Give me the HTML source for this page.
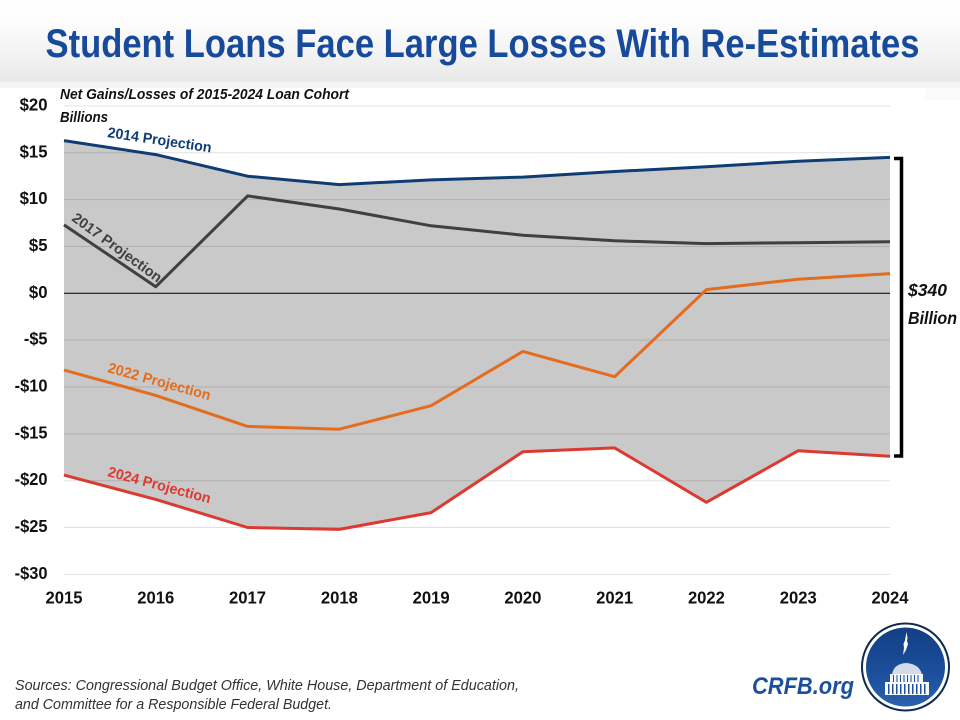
<!DOCTYPE html>
<html lang="en">
<head>
<meta charset="utf-8">
<title>Student Loans Face Large Losses With Re-Estimates</title>
<style>
html,body{margin:0;padding:0;background:#fff;}
#chart{display:block;width:960px;height:720px;font-family:"Liberation Sans",sans-serif;}
</style>
</head>
<body>
<svg id="chart" xmlns="http://www.w3.org/2000/svg" width="960" height="720" viewBox="0 0 960 720">
<defs>
<linearGradient id="headerGrad" x1="0" y1="0" x2="0" y2="1">
<stop offset="0" stop-color="#ffffff"/><stop offset="0.35" stop-color="#fbfbfb"/><stop offset="1" stop-color="#e9e9e9"/>
</linearGradient>
<linearGradient id="logoGrad" x1="0" y1="0" x2="0" y2="1">
<stop offset="0" stop-color="#123f85"/><stop offset="0.6" stop-color="#1c4f9c"/><stop offset="1" stop-color="#2a62b0"/>
</linearGradient>
</defs>
<rect x="0" y="0" width="960" height="82" fill="url(#headerGrad)"/>
<rect x="0" y="82" width="960" height="6" fill="#f5f5f5"/>
<rect x="925" y="88" width="35" height="12" fill="#fbfbfb"/>
<text x="482.5" y="57" text-anchor="middle" font-size="40" font-weight="700" fill="#174a9a" textLength="874" lengthAdjust="spacingAndGlyphs">Student Loans Face Large Losses With Re-Estimates</text>
<g id="plot"></g>
<text x="60" y="99" font-size="14.5" font-weight="700" font-style="italic" fill="#111" textLength="289" lengthAdjust="spacingAndGlyphs">Net Gains/Losses of 2015-2024 Loan Cohort</text>
<text x="60" y="122" font-size="14.5" font-weight="700" font-style="italic" fill="#111" textLength="48" lengthAdjust="spacingAndGlyphs">Billions</text>
<path d="M894 158.500H901.500V456H894" fill="none" stroke="#000" stroke-width="3.500"/>
<text x="908" y="296" font-size="17.500" font-weight="700" font-style="italic" fill="#111" textLength="39" lengthAdjust="spacingAndGlyphs">$340</text>
<text x="908" y="324" font-size="17.500" font-weight="700" font-style="italic" fill="#111" textLength="49" lengthAdjust="spacingAndGlyphs">Billion</text>
<text x="15" y="690" font-size="14.500" font-style="italic" fill="#333" textLength="504" lengthAdjust="spacingAndGlyphs">Sources: Congressional Budget Office, White House, Department of Education,</text>
<text x="15" y="709" font-size="14.500" font-style="italic" fill="#333" textLength="317" lengthAdjust="spacingAndGlyphs">and Committee for a Responsible Federal Budget.</text>
<text x="752" y="694" font-size="24" font-weight="700" font-style="italic" fill="#1b4f9c" textLength="102" lengthAdjust="spacingAndGlyphs">CRFB.org</text>
<g>
<circle cx="905.500" cy="667" r="43.500" fill="#fff" stroke="#10294f" stroke-width="2"/>
<circle cx="905.500" cy="667" r="39.500" fill="url(#logoGrad)"/>
<g fill="#fff">
<path d="M906.500 632l1 6 -0.500 3 1 3 -2 6 -3 5 1 -7 -0.500 -4 1.500 -3.500z"/>
<path d="M892 675q1 -11 14 -12q14 1 16 12z" opacity="0.8"/>
<rect x="890" y="674" width="33" height="8" opacity="0.95"/>
<path d="M885 695v-13h44v13z"/>
</g>
<path d="M893 675h1v7h-1zM896.500 675h1v7h-1zM900 675h1v7h-1zM903.500 675h1v7h-1zM907 675h1v7h-1zM910.500 675h1v7h-1zM914 675h1v7h-1zM917.500 675h1v7h-1zM888 684h1.500v10h-1.500zM892 684h1.500v10h-1.500zM896 684h1.500v10h-1.500zM900 684h1.500v10h-1.500zM904 684h1.500v10h-1.500zM908 684h1.500v10h-1.500zM912 684h1.500v10h-1.500zM916 684h1.500v10h-1.500zM920 684h1.500v10h-1.500zM924 684h1.500v10h-1.500z" fill="#1c4f9c"/>
</g>
</svg>
<script>
const years = [2015, 2016, 2017, 2018, 2019, 2020, 2021, 2022, 2023, 2024];
const yTickValues = [20, 15, 10, 5, 0, -5, -10, -15, -20, -25, -30];
const yTickLabels = ["$20", "$15", "$10", "$5", "$0", "-$5", "-$10", "-$15", "-$20", "-$25", "-$30"];
const projection2014 = [16.3, 14.8, 12.5, 11.6, 12.1, 12.4, 13.0, 13.5, 14.1, 14.5];
const projection2017 = [7.3, 0.7, 10.4, 9.0, 7.2, 6.2, 5.6, 5.3, 5.4, 5.5];
const projection2022 = [-8.2, -10.9, -14.2, -14.5, -12.0, -6.2, -8.9, 0.4, 1.5, 2.1];
const projection2024 = [-19.4, -22.0, -25.0, -25.2, -23.4, -16.9, -16.5, -22.3, -16.8, -17.4];

const NS = "http://www.w3.org/2000/svg";
const plot = document.getElementById("plot");
const xLeft = 64, xRight = 890, yZero = 293.3, pxPerUnit = 9.37;
function xScale(i) { return xLeft + (xRight - xLeft) * i / (years.length - 1); }
function yScale(v) { return yZero - v * pxPerUnit; }
function make(tag, attrs) {
  const el = document.createElementNS(NS, tag);
  for (const k in attrs) el.setAttribute(k, attrs[k]);
  plot.appendChild(el);
  return el;
}
function pts(values) { return values.map(function (v, i) { return xScale(i).toFixed(1) + "," + yScale(v).toFixed(1); }); }

const bg = make("rect", { x: 3, y: 88, width: 922, height: 500, fill: "#ffffff" });



const band = make("polygon", { points: pts(projection2014).concat(pts(projection2024).reverse()).join(" "), fill: "#c9c9c9" });



yTickValues.forEach(function (v, i) {
  if (v !== 0) {
    const g = make("line", { x1: xLeft, x2: xRight, y1: yScale(v), y2: yScale(v), stroke: "#000", "stroke-opacity": 0.12, "stroke-width": 1 });
    
    
  }
  const label = yTickLabels[i];
  const digits = label.replace("-", "").length;
  const t = make("text", { x: 47.5, y: yScale(v) + 4.5, "text-anchor": "end", "font-size": 17.5, "font-weight": 700, fill: "#111", textLength: digits * 9.3 + (label.length > digits ? 5 : 0), lengthAdjust: "spacingAndGlyphs" });
  
  
  t.textContent = label;
});

const zero = make("line", { x1: xLeft, x2: xRight, y1: yScale(0), y2: yScale(0), stroke: "#000", "stroke-width": 1 });



years.forEach(function (y, i) {
  const t = make("text", { x: xScale(i), y: 603.5, "text-anchor": "middle", "font-size": 17.5, "font-weight": 700, fill: "#111", textLength: 37, lengthAdjust: "spacingAndGlyphs" });
  
  
  t.textContent = y;
});

const line2014 = make("polyline", { points: pts(projection2014).join(" "), fill: "none", stroke: "#0f3d73", "stroke-width": 3, "stroke-linejoin": "round" });


const line2017 = make("polyline", { points: pts(projection2017).join(" "), fill: "none", stroke: "#404040", "stroke-width": 3, "stroke-linejoin": "round" });


const line2022 = make("polyline", { points: pts(projection2022).join(" "), fill: "none", stroke: "#e46c1e", "stroke-width": 3, "stroke-linejoin": "round" });


const line2024 = make("polyline", { points: pts(projection2024).join(" "), fill: "none", stroke: "#dc3a30", "stroke-width": 3, "stroke-linejoin": "round" });



function seriesLabel(text, x, y, angle, color, len) {
  const t = make("text", { transform: "translate(" + x + "," + y + ") rotate(" + angle + ")", "font-size": 14.5, "font-weight": 700, fill: color, textLength: len, lengthAdjust: "spacingAndGlyphs" });
  t.textContent = text;
  return t;
}
const label2014 = seriesLabel("2014 Projection", 107, 137, 8.5, "#0f3d73", 105);


const label2017 = seriesLabel("2017 Projection", 71, 220, 36, "#404040", 107);


const label2022 = seriesLabel("2022 Projection", 107, 372, 15.5, "#e46c1e", 106);


const label2024 = seriesLabel("2024 Projection", 107, 476, 15, "#dc3a30", 106);


</script>
</body>
</html>
